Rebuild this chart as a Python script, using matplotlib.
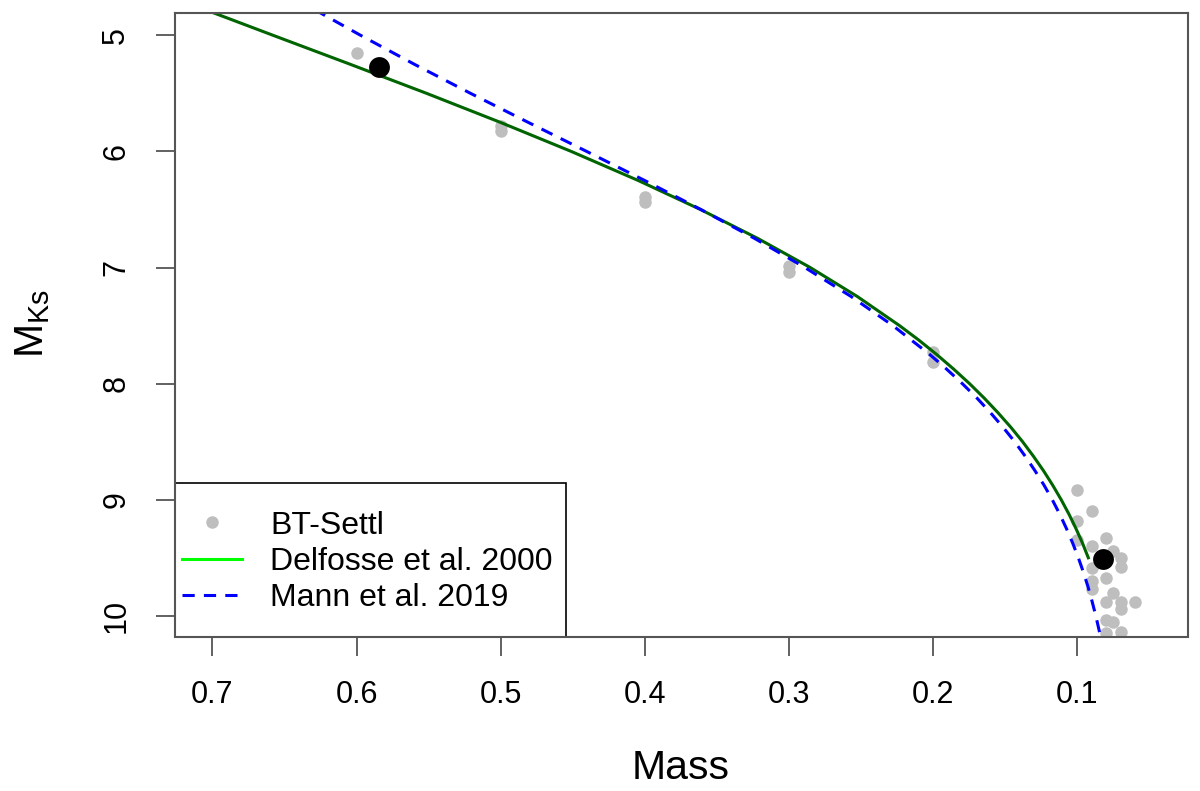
import matplotlib
matplotlib.use("Agg")
import matplotlib.pyplot as plt
from matplotlib.lines import Line2D
from matplotlib.patches import Rectangle

plt.rcParams['font.family'] = ['Liberation Sans', 'DejaVu Sans']

# ---- data ----
# Delfosse et al. 2000 relation (M_Ks vs mass)
delf_mk = [4.5, 4.75, 5.0, 5.25, 5.5, 5.75, 6.0, 6.25, 6.5, 6.75, 7.0,
           7.25, 7.5, 7.625, 7.75, 7.875, 8.0, 8.125, 8.25, 8.375, 8.5,
           8.625, 8.75, 8.875, 9.0, 9.125, 9.25, 9.375, 9.5]
delf_mass = [0.7635, 0.7112, 0.6579, 0.6043, 0.5514, 0.5002, 0.4511, 0.4047,
             0.3615, 0.3216, 0.2853, 0.2526, 0.2234, 0.2100, 0.1975, 0.1858,
             0.1748, 0.1646, 0.1551, 0.1462, 0.1380, 0.1305, 0.1235, 0.1171,
             0.1112, 0.1058, 0.1009, 0.0964, 0.0924]

# Mann et al. 2019 relation
mann_mk = [4.5, 4.75, 5.0, 5.25, 5.5, 5.75, 6.0, 6.25, 6.5, 6.75, 7.0,
           7.25, 7.5, 7.75, 7.875, 8.0, 8.125, 8.25, 8.375, 8.5, 8.625,
           8.75, 8.875, 9.0, 9.125, 9.25, 9.375, 9.5, 9.625, 9.75, 9.875,
           10.0, 10.125, 10.25, 10.375, 10.5]
mann_mass = [0.6686, 0.6333, 0.5972, 0.5598, 0.5209, 0.4809, 0.4404, 0.4002,
             0.3612, 0.3238, 0.2890, 0.2569, 0.2280, 0.2023, 0.1907, 0.1798,
             0.1696, 0.1603, 0.1516, 0.1435, 0.1362, 0.1294, 0.1231, 0.1174,
             0.1122, 0.1075, 0.1032, 0.0993, 0.0958, 0.0926, 0.0898, 0.0872,
             0.0849, 0.0828, 0.0809, 0.0792]

# BT-Settl model points
bt_mass = [0.6, 0.5, 0.5, 0.4, 0.4, 0.3, 0.3, 0.2, 0.2,
           0.1, 0.09, 0.1, 0.08, 0.1, 0.09, 0.075, 0.07, 0.07, 0.09,
           0.08, 0.09, 0.09, 0.075, 0.08, 0.06, 0.07, 0.07, 0.08, 0.075,
           0.08, 0.07]
bt_mk = [5.15, 5.78, 5.82, 6.39, 6.44, 6.99, 7.04, 7.73, 7.81,
         8.92, 9.10, 9.18, 9.33, 9.35, 9.40, 9.44, 9.50, 9.58, 9.59,
         9.67, 9.70, 9.77, 9.80, 9.88, 9.88, 9.88, 9.94, 10.04, 10.05,
         10.15, 10.14]

# Highlighted objects
obj_mass = [0.5842, 0.0825]
obj_mk = [5.275, 9.51]

x_ticks = [0.7, 0.6, 0.5, 0.4, 0.3, 0.2, 0.1]
y_ticks = [5, 6, 7, 8, 9, 10]
legend_labels = ['BT-Settl', 'Delfosse et al. 2000', 'Mann et al. 2019']

# ---- figure ----
W, H = 1200, 791
fig = plt.figure(figsize=(W / 100, H / 100), dpi=100)
ax = fig.add_axes([175 / W, 1 - 636.5 / H, (1187.5 - 175) / W, (636.5 - 13) / H])

ax.plot(bt_mass, bt_mk, 'o', color='#bebebe', markersize=9, markeredgewidth=0,
        zorder=2)
ax.plot(delf_mass, delf_mk, '-', color='#006400', linewidth=2.2, zorder=3)
ax.plot(mann_mass, mann_mk, '--', color='#0000ff', linewidth=2.2,
        dashes=(4, 3), zorder=3)
ax.plot(obj_mass, obj_mk, 'o', color='black', markersize=15,
        markeredgewidth=0, zorder=4)

ax.set_xlim(0.7259, 0.0236)
ax.set_ylim(10.178, 4.808)
ax.set_xticks(x_ticks)
ax.set_xticklabels([f"{v:.1f}" for v in x_ticks])
ax.set_yticks(y_ticks)
ax.set_yticklabels([str(v) for v in y_ticks])

edge = '#555555'
for s in ax.spines.values():
    s.set_color(edge)
    s.set_linewidth(1.5)
    s.set_zorder(7)
ax.tick_params(axis='both', direction='out', length=13.5, width=1.3,
               color=edge, labelsize=22, labelcolor='black', pad=18)
ax.tick_params(axis='y', labelrotation=90)
for lab in ax.get_yticklabels():
    lab.set_va('center')

fig.text(681 / W, 1 - 768 / H, 'Mass', ha='center', va='center', fontsize=29.5)
fig.text(33 / W, 1 - 324 / H, r'$\mathregular{M_{Ks}}$', ha='center',
         va='center', rotation=90, fontsize=29.5)

# legend box (R style)
ax.add_patch(Rectangle((0, 0), (566 - 175) / 1012.5, (636.5 - 483) / 623.5,
                       transform=ax.transAxes, facecolor='white',
                       edgecolor='black', linewidth=1.2, zorder=5,
                       clip_on=False))

handles = [
    Line2D([], [], linestyle='none', marker='o', color='#bebebe',
           markersize=9, markeredgewidth=0),
    Line2D([], [], color='#00ff00', linewidth=2.2),
    Line2D([], [], color='#0000ff', linewidth=2.2, linestyle='--',
           dashes=(4, 3)),
]
leg = fig.legend(handles, legend_labels,
                 loc='center left', bbox_to_anchor=(182 / W, 1 - 562 / H),
                 bbox_transform=fig.transFigure, borderaxespad=0, borderpad=0,
                 fontsize=23, frameon=False, handlelength=1.88,
                 handletextpad=0.88, labelspacing=0.2)
leg.set_zorder(6)

fig.savefig('out.png', dpi=100, facecolor='white')
